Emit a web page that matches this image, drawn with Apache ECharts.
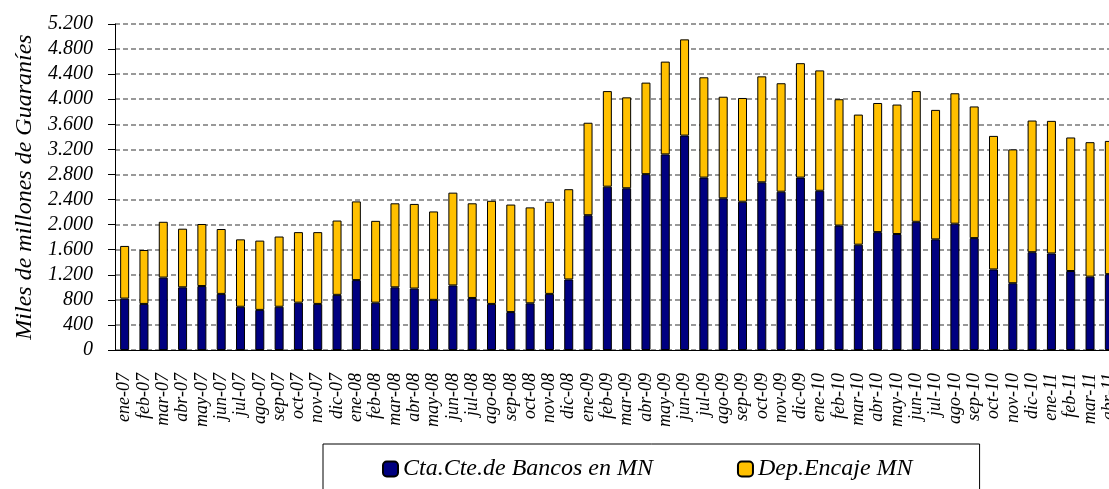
<!DOCTYPE html>
<html>
<head>
<meta charset="utf-8">
<script src="https://cdn.jsdelivr.net/npm/echarts@6/dist/echarts.min.js"></script>
<style>
  html, body { margin: 0; padding: 0; overflow: hidden; background: #fff; }
  #chart { width: 1119px; height: 489px; }
</style>
</head>
<body>
<div id="chart"></div>
<script>
const meses = [
  'ene-07', 'feb-07', 'mar-07', 'abr-07', 'may-07', 'jun-07', 'jul-07', 'ago-07', 'sep-07', 'oct-07', 'nov-07', 'dic-07',
  'ene-08', 'feb-08', 'mar-08', 'abr-08', 'may-08', 'jun-08', 'jul-08', 'ago-08', 'sep-08', 'oct-08', 'nov-08', 'dic-08',
  'ene-09', 'feb-09', 'mar-09', 'abr-09', 'may-09', 'jun-09', 'jul-09', 'ago-09', 'sep-09', 'oct-09', 'nov-09', 'dic-09',
  'ene-10', 'feb-10', 'mar-10', 'abr-10', 'may-10', 'jun-10', 'jul-10', 'ago-10', 'sep-10', 'oct-10', 'nov-10', 'dic-10',
  'ene-11', 'feb-11', 'mar-11', 'abr-11'
]

// Cta.Cte. de Bancos en MN (azul)
const ctaCte = [
  820, 735, 1155, 1000, 1020, 895, 690, 640, 690, 755, 735, 880,
  1115, 755, 1000, 980, 800, 1030, 830, 735, 605, 745, 895, 1125,
  2150, 2605, 2580, 2805, 3120, 3420, 2750, 2420, 2365, 2675, 2525, 2750,
  2540, 1985, 1680, 1880, 1850, 2045, 1765, 2015, 1785, 1285, 1065, 1560,
  1540, 1260, 1170, 1210
]

// Dep. Encaje MN (amarillo)
const depEncaje = [
  840, 860, 890, 935, 990, 1035, 1075, 1105, 1120, 1125, 1145, 1185,
  1255, 1305, 1340, 1350, 1410, 1480, 1510, 1645, 1715, 1530, 1470, 1440,
  1475, 1525, 1450, 1460, 1480, 1535, 1600, 1620, 1655, 1690, 1730, 1825,
  1920, 2015, 2075, 2060, 2065, 2085, 2065, 2080, 2100, 2130, 2135, 2100,
  2115, 2130, 2145, 2125
]

const fuente = '"Liberation Serif", "Times New Roman", serif'

const chartInstance = echarts.init(document.getElementById('chart'))

const option = {
  backgroundColor: '#fff',
  animation: false,
  textStyle: { fontFamily: fuente, fontStyle: 'italic', color: '#000' },
  grid: {
    left: 115,
    right: 0,
    top: 24,
    bottom: 139,
  },
  legend: {
    left: 323,
    top: 444,
    padding: [13, 67, 14, 59],
    borderColor: '#000',
    borderWidth: 1,
    itemWidth: 15,
    itemHeight: 15,
    itemGap: 84,
    textStyle: { fontFamily: fuente, fontStyle: 'italic', fontSize: 24, color: '#000' },
    data: ['Cta.Cte.de Bancos en MN', 'Dep.Encaje MN'],
  },
  xAxis: {
    type: 'category',
    data: meses,
    axisLine: { lineStyle: { color: '#000', width: 1 } },
    axisTick: { length: 5, lineStyle: { color: '#000' } },
    axisLabel: {
      rotate: 90,
      interval: 0,
      margin: 23,
      fontFamily: fuente,
      fontStyle: 'italic',
      fontSize: 18,
      color: '#000',
    },
  },
  yAxis: {
    type: 'value',
    min: 0,
    max: 5200,
    interval: 400,
    name: 'Miles de millones de Guaraníes',
    nameLocation: 'middle',
    nameGap: 78,
    nameTextStyle: { fontFamily: fuente, fontStyle: 'italic', fontSize: 24, color: '#000' },
    axisLine: { show: true, lineStyle: { color: '#000', width: 1 } },
    axisTick: { show: true, length: 7, lineStyle: { color: '#000' } },
    axisLabel: {
      margin: 22,
      fontFamily: fuente,
      fontStyle: 'italic',
      fontSize: 20,
      color: '#000',
      // separador de miles con punto
      formatter: (v) => String(v).replace(/\B(?=(\d{3})+(?!\d))/g, '.'),
    },
    splitLine: {
      lineStyle: { color: '#999', width: 2, type: [5, 3] },
    },
  },
  series: [
    {
      name: 'Cta.Cte.de Bancos en MN',
      type: 'bar',
      stack: 'total',
      barWidth: 9,
      data: ctaCte,
      itemStyle: { color: '#000080', borderColor: '#000', borderWidth: 1 },
    },
    {
      name: 'Dep.Encaje MN',
      type: 'bar',
      stack: 'total',
      barWidth: 9,
      data: depEncaje,
      itemStyle: { color: '#FFC000', borderColor: '#000', borderWidth: 1 },
    },
  ],
}

chartInstance.setOption(option)
</script>
</body>
</html>
